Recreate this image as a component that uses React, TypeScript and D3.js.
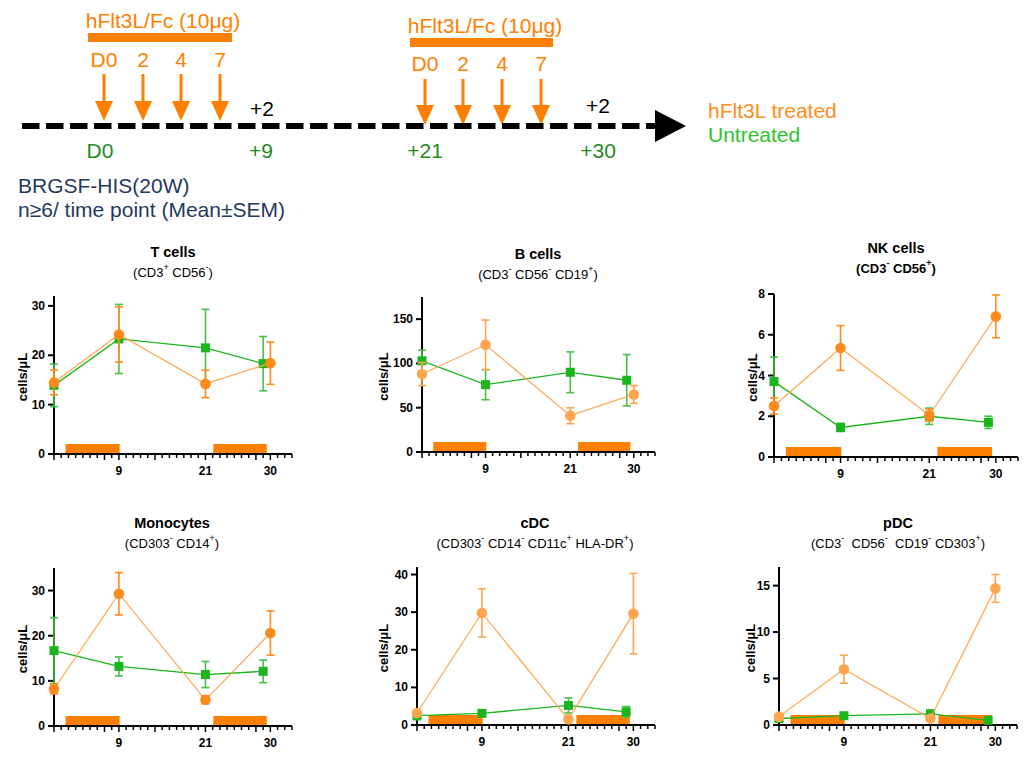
import React from 'react';
import * as d3 from 'd3';

// ---------- data ----------
const untreatedDays = [0, 9, 21, 29];
const treatedDays = [0, 9, 21, 30];
const treatmentWindows: [number, number][] = [[1.6, 9.1], [22.1, 29.5]];
const xMajorTicks = [0, 7, 9, 14, 21, 28, 30];
const xTickLabels = [9, 21, 30];

const tUntreated = [13.9, 23.3, 21.5, 18.3];
const tUntreatedSem = [4.3, 7.0, 7.8, 5.5];
const tTreated = [14.5, 24.2, 14.2, 18.4];
const tTreatedSem = [2.5, 5.6, 2.8, 4.3];

const bUntreated = [103, 76, 90, 81];
const bUntreatedSem = [12, 17, 23, 29];
const bTreated = [88, 121, 41, 65];
const bTreatedSem = [13, 28, 9, 10];

const nkUntreated = [3.7, 1.45, 2.0, 1.7];
const nkUntreatedSem = [1.2, 0.2, 0.4, 0.3];
const nkTreated = [2.5, 5.35, 2.05, 6.9];
const nkTreatedSem = [0.4, 1.1, 0.3, 1.05];

const monoUntreated = [16.7, 13.2, 11.4, 12.1];
const monoUntreatedSem = [7.3, 2.1, 2.9, 2.5];
const monoTreated = [8.2, 29.3, 5.8, 20.6];
const monoTreatedSem = [1.1, 4.7, 0.9, 4.9];

const cdcUntreated = [2.5, 3.1, 5.2, 3.5];
const cdcUntreatedSem = [1.1, 0.9, 2.0, 1.4];
const cdcTreated = [3.2, 29.8, 1.5, 29.6];
const cdcTreatedSem = [0.5, 6.4, 0.4, 10.7];

const pdcUntreated = [0.7, 1.0, 1.2, 0.5];
const pdcUntreatedSem = [0.15, 0.2, 0.4, 0.15];
const pdcTreated = [0.9, 6.0, 0.7, 14.7];
const pdcTreatedSem = [0.15, 1.5, 0.15, 1.5];

const tYTicks = [0, 10, 20, 30];
const bYTicks = [0, 50, 100, 150];
const nkYTicks = [0, 2, 4, 6, 8];
const monoYTicks = [0, 10, 20, 30];
const cdcYTicks = [0, 10, 20, 30, 40];
const pdcYTicks = [0, 5, 10, 15];

type Seg = [string, boolean];
const tSub: Seg[] = [['(CD3', false], ['+', true], [' CD56', false], ['-', true], [')', false]];
const bSub: Seg[] = [['(CD3', false], ['-', true], [' CD56', false], ['-', true], [' CD19', false], ['+', true], [')', false]];
const nkSub: Seg[] = [['(CD3', false], ['-', true], [' CD56', false], ['+', true], [')', false]];
const monoSub: Seg[] = [['(CD303', false], ['-', true], [' CD14', false], ['+', true], [')', false]];
const cdcSub: Seg[] = [['(CD303', false], ['-', true], [' CD14', false], ['-', true], [' CD11c', false], ['+', true], [' HLA-DR', false], ['+', true], [')', false]];
const pdcSub: Seg[] = [['(CD3', false], ['-', true], ['  CD56', false], ['-', true], ['  CD19', false], ['-', true], [' CD303', false], ['+', true], [')', false]];

const doseDays = ['D0', '2', '4', '7'];
const timelineLabels = ['D0', '+9', '+21', '+30'];

// ---------- styles ----------
const FONT = '"Liberation Sans", Arial, Helvetica, sans-serif';
const ORANGE = '#ff8000';
const ORANGE_MARK = '#ff8a1c';
const ORANGE_LIGHT = '#ffa54f';
const GREEN = '#1db51d';
const GREEN_ERR = '#45c245';
const SF = 21; // schematic font size
const TICKF = 12;

interface PanelCfg {
  title: string; sub: Seg[]; subBold?: boolean;
  cx: number; titleY: number;
  left: number; right: number; bottom: number; top: number; ymax: number;
  yTicks: number[]; ylabX: number;
  g: number[]; gs: number[]; o: number[]; os: number[]; oColor: string;
}

const panels: PanelCfg[] = [
  { title: 'T cells', sub: tSub, cx: 173, titleY: 252, left: 54, right: 292, bottom: 454, top: 296, ymax: 32, yTicks: tYTicks, ylabX: 22, g: tUntreated, gs: tUntreatedSem, o: tTreated, os: tTreatedSem, oColor: ORANGE_MARK },
  { title: 'B cells', sub: bSub, cx: 538, titleY: 254, left: 422, right: 655, bottom: 452, top: 297, ymax: 175, yTicks: bYTicks, ylabX: 383, g: bUntreated, gs: bUntreatedSem, o: bTreated, os: bTreatedSem, oColor: ORANGE_LIGHT },
  { title: 'NK cells', sub: nkSub, subBold: true, cx: 896, titleY: 248, left: 774, right: 1018, bottom: 457, top: 294, ymax: 8, yTicks: nkYTicks, ylabX: 752, g: nkUntreated, gs: nkUntreatedSem, o: nkTreated, os: nkTreatedSem, oColor: ORANGE_MARK },
  { title: 'Monocytes', sub: monoSub, cx: 172, titleY: 523, left: 54, right: 292, bottom: 726, top: 568, ymax: 35, yTicks: monoYTicks, ylabX: 22, g: monoUntreated, gs: monoUntreatedSem, o: monoTreated, os: monoTreatedSem, oColor: ORANGE_MARK },
  { title: 'cDC', sub: cdcSub, cx: 535, titleY: 523, left: 417, right: 655, bottom: 725, top: 567, ymax: 42, yTicks: cdcYTicks, ylabX: 383, g: cdcUntreated, gs: cdcUntreatedSem, o: cdcTreated, os: cdcTreatedSem, oColor: ORANGE_LIGHT },
  { title: 'pDC', sub: pdcSub, cx: 898, titleY: 523, left: 779, right: 1017, bottom: 725, top: 567, ymax: 17, yTicks: pdcYTicks, ylabX: 750, g: pdcUntreated, gs: pdcUntreatedSem, o: pdcTreated, os: pdcTreatedSem, oColor: ORANGE_LIGHT },
];

function Panel({ c }: { c: PanelCfg }) {
  const x = d3.scaleLinear().domain([0, 33]).range([c.left, c.right]);
  const y = d3.scaleLinear().domain([0, c.ymax]).range([c.bottom, c.top]);
  const line = d3.line<[number, number]>().x(d => x(d[0])).y(d => y(d[1]));
  const gPts: [number, number][] = untreatedDays.map((d, i) => [d, c.g[i]]);
  const oPts: [number, number][] = treatedDays.map((d, i) => [d, c.o[i]]);
  const minorTicks = d3.range(0, 34);
  const errBar = (px: number, m: number, s: number, color: string, key: string, w: number) => {
    const y1 = y(Math.max(0, m - s));
    const y2 = y(m + s);
    return (
      <g key={key} stroke={color} strokeWidth={w}>
        <line x1={px} x2={px} y1={y1} y2={y2} />
        <line x1={px - 4} x2={px + 4} y1={y1} y2={y1} />
        <line x1={px - 4} x2={px + 4} y1={y2} y2={y2} />
      </g>
    );
  };
  const ymid = (c.top + c.bottom) / 2;
  const subF = 13;
  const supF = 9;
  return (
    <g>
      <text x={c.cx} y={c.titleY} textAnchor="middle" dominantBaseline="central" fontSize={14.5} fontWeight="bold" fontFamily={FONT}>{c.title}</text>
      <text x={c.cx} y={c.titleY + 20} textAnchor="middle" dominantBaseline="central" fontSize={subF} fontWeight={c.subBold ? 'bold' : 'normal'} fontFamily={FONT} xmlSpace="preserve">
        {c.sub.map(([t, sup], i) => sup
          ? <tspan key={i} fontSize={supF} dy={-5}>{t}</tspan>
          : <tspan key={i} fontSize={subF} dy={i > 0 && c.sub[i - 1][1] ? 5 : 0}>{t}</tspan>)}
      </text>
      <text transform={`translate(${c.ylabX},${ymid + 2}) rotate(-90)`} textAnchor="middle" dominantBaseline="central" fontSize={13} fontWeight="bold" fontFamily={FONT}>cells/μL</text>
      {/* treatment windows */}
      {treatmentWindows.map((w, i) => (
        <rect key={i} x={x(w[0])} width={x(w[1]) - x(w[0])} y={c.bottom - 10} height={9} fill={ORANGE} />
      ))}
      {/* axes */}
      <line x1={c.left} x2={c.left} y1={c.top} y2={c.bottom + 1} stroke="#000" strokeWidth={2} />
      <line x1={c.left - 1} x2={c.right} y1={c.bottom} y2={c.bottom} stroke="#000" strokeWidth={2} />
      {c.yTicks.map(t => (
        <g key={t}>
          <line x1={c.left - 6} x2={c.left} y1={y(t)} y2={y(t)} stroke="#000" strokeWidth={2} />
          <text x={c.left - 9} y={y(t)} textAnchor="end" dominantBaseline="central" fontSize={TICKF} fontWeight="bold" fontFamily={FONT}>{t}</text>
        </g>
      ))}
      {minorTicks.map(t => (
        <line key={t} x1={x(t)} x2={x(t)} y1={c.bottom} y2={c.bottom + (xMajorTicks.includes(t) ? 6 : 4)} stroke="#000" strokeWidth={1.5} />
      ))}
      {xTickLabels.map(t => (
        <text key={t} x={x(t)} y={c.bottom + 17} textAnchor="middle" dominantBaseline="central" fontSize={TICKF} fontWeight="bold" fontFamily={FONT}>{t}</text>
      ))}
      {/* untreated */}
      <path d={line(gPts) || ''} fill="none" stroke={GREEN} strokeWidth={1.3} />
      {gPts.map((p, i) => errBar(x(p[0]), p[1], c.gs[i], GREEN_ERR, 'ge' + i, 1.6))}
      {gPts.map((p, i) => (
        <rect key={'g' + i} x={x(p[0]) - 4.5} y={y(p[1]) - 4.5} width={9} height={9} fill={GREEN} />
      ))}
      {/* treated */}
      <path d={line(oPts) || ''} fill="none" stroke={ORANGE_LIGHT} strokeWidth={1.2} />
      {oPts.map((p, i) => errBar(x(p[0]), p[1], c.os[i], c.oColor, 'oe' + i, 1.6))}
      {oPts.map((p, i) => (
        <circle key={'o' + i} cx={x(p[0])} cy={y(p[1])} r={5.3} fill={c.oColor} />
      ))}
    </g>
  );
}

function Arrow({ x, y1, y2 }: { x: number; y1: number; y2: number }) {
  const headH = 20;
  return (
    <g fill={ORANGE} stroke="none">
      <rect x={x - 1.5} y={y1} width={3} height={y2 - y1 - headH + 1} />
      <polygon points={`${x - 9},${y2 - headH} ${x + 9},${y2 - headH} ${x},${y2}`} />
    </g>
  );
}

function Schematic() {
  const g1x = [104, 143, 181, 220];
  const g2x = [425, 463, 502, 541];
  const tlx = [100, 261, 425, 598];
  return (
    <g fontFamily={FONT}>
      <text x={163} y={20} textAnchor="middle" dominantBaseline="central" fontSize={SF} fill={ORANGE}>hFlt3L/Fc (10μg)</text>
      <rect x={88} y={33} width={144} height={9} fill={ORANGE} />
      {doseDays.map((d, i) => (
        <text key={'a' + i} x={g1x[i]} y={59} textAnchor="middle" dominantBaseline="central" fontSize={SF} fill={ORANGE}>{d}</text>
      ))}
      {g1x.map((xx, i) => <Arrow key={'ar' + i} x={xx} y1={74} y2={121} />)}
      <text x={262} y={108} textAnchor="middle" dominantBaseline="central" fontSize={SF} fill="#000">+2</text>

      <text x={485} y={25} textAnchor="middle" dominantBaseline="central" fontSize={SF} fill={ORANGE}>hFlt3L/Fc (10μg)</text>
      <rect x={410} y={38} width={143} height={9} fill={ORANGE} />
      {doseDays.map((d, i) => (
        <text key={'b' + i} x={g2x[i]} y={63} textAnchor="middle" dominantBaseline="central" fontSize={SF} fill={ORANGE}>{d}</text>
      ))}
      {g2x.map((xx, i) => <Arrow key={'br' + i} x={xx} y1={79} y2={125} />)}
      <text x={598} y={105} textAnchor="middle" dominantBaseline="central" fontSize={SF} fill="#000">+2</text>

      <line x1={22} x2={656} y1={126} y2={126} stroke="#000" strokeWidth={6} strokeDasharray="17.5 6.5" />
      <polygon points="655,110 655,142 686,126" fill="#000" />

      {timelineLabels.map((t, i) => (
        <text key={'t' + i} x={tlx[i]} y={150} textAnchor="middle" dominantBaseline="central" fontSize={SF} fill="#1f8a1f">{t}</text>
      ))}

      <text x={708} y={110} dominantBaseline="central" fontSize={SF} fill="#ff8c1a">hFlt3L treated</text>
      <text x={708} y={134} dominantBaseline="central" fontSize={SF} fill="#2ec42e">Untreated</text>

      <text x={18} y={185} dominantBaseline="central" fontSize={SF} fill="#1f3a5c">BRGSF-HIS(20W)</text>
      <text x={18} y={209} dominantBaseline="central" fontSize={SF} fill="#1f3a5c">n≥6/ time point (Mean±SEM)</text>
    </g>
  );
}

export default function App() {
  return (
    <svg width={1028} height={766} style={{ position: 'absolute', left: 0, top: 0, background: '#fff' }}>
      <rect x={0} y={0} width={1028} height={766} fill="#fff" />
      <Schematic />
      {panels.map((p, i) => <Panel key={i} c={p} />)}
    </svg>
  );
}
